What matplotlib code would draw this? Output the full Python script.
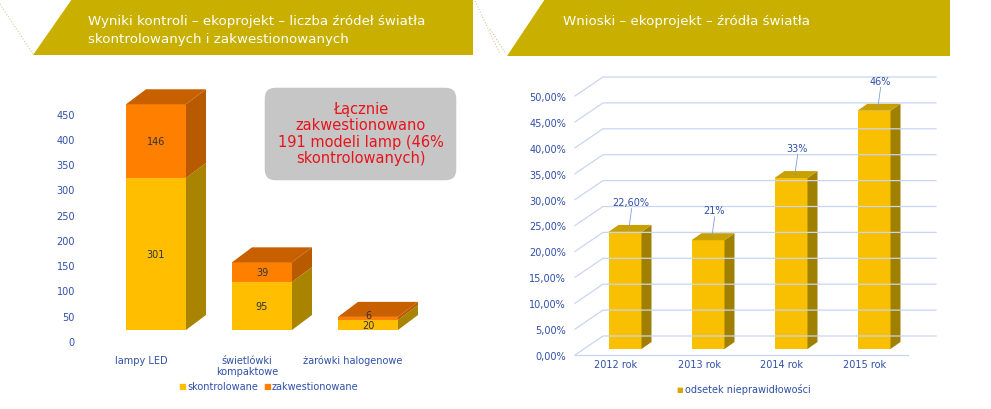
import matplotlib.pyplot as plt
from matplotlib.patches import Polygon, FancyBboxPatch

# data
left_cats = ["lampy LED", "świetlówki\nkompaktowe", "żarówki halogenowe"]
checked = [301, 95, 20]
questioned = [146, 39, 6]
left_ticks = list(range(0, 451, 50))

right_cats = ["2012 rok", "2013 rok", "2014 rok", "2015 rok"]
error_pct = [22.6, 21, 33, 46]
error_labels = ["22,60%", "21%", "33%", "46%"]
right_ticks = list(range(0, 51, 5))

W, H = 991, 410
fig = plt.figure(figsize=(W / 100, H / 100), dpi=100)
fig.patch.set_facecolor("white")
BLUE = "#2f4fa8"


def px(x, y):
    return x / W, 1 - y / H


def face(ax, pts, color):
    ax.add_patch(Polygon(pts, closed=True, facecolor=color, edgecolor="none"))


def box3d(ax, xc, y0, y1, w, dx, dy, front, side, top=None):
    x0, x1 = xc - w / 2, xc + w / 2
    face(ax, [(x0, y0), (x1, y0), (x1, y1), (x0, y1)], front)
    face(ax, [(x1, y0), (x1 + dx, y0 + dy), (x1 + dx, y1 + dy), (x1, y1)], side)
    if top:
        face(ax, [(x0, y1), (x1, y1), (x1 + dx, y1 + dy), (x0 + dx, y1 + dy)], top)


# header banners
for pts in ([(33, 56), (72, 0), (473, 0), (473, 56)],
            [(507, 57), (545, 0), (950, 0), (950, 57)]):
    fig.patches.append(Polygon([px(*p) for p in pts], closed=True, transform=fig.transFigure,
                               facecolor="#c9b000", edgecolor="none"))
fig.text(*px(88, 21), "Wyniki kontroli – ekoprojekt – liczba źródeł światła", color="white",
         fontsize=9.6, va="center")
fig.text(*px(88, 39), "skontrolowanych i zakwestionowanych", color="white",
         fontsize=9.6, va="center")
fig.text(*px(563, 21), "Wnioski – ekoprojekt – źródła światła", color="white",
         fontsize=9.6, va="center")
for (xa, ya), (xb, yb) in (((0, 5), (33, 55)), ((475, 2), (500, 55)), ((490, 30), (506, 55))):
    fig.add_artist(plt.Line2D([xa / W, xb / W], [1 - ya / H, 1 - yb / H], color="#d8c890",
                              lw=0.8, ls=":"))

# ---------- left panel ----------
sx, sy = 106, 0.505
axl = fig.add_axes([0, 1 - 400 / H, 490 / W, 340 / H])
xmin = -156 / sx
axl.set_xlim(xmin, xmin + 490 / sx)
axl.set_ylim(-(400 - 331) / sy, (331 - 60) / sy)
axl.axis("off")
dx, dy = 20 / sx, 15 / sy
w = 60 / sx
for i, (c, q) in enumerate(zip(checked, questioned)):
    box3d(axl, i, 0, c, w, dx, dy, "#ffbf00", "#a88400")
    box3d(axl, i, c, c + q, w, dx, dy, "#ff7f00", "#b85a00", "#c96000")
    axl.text(i, c / 2, str(c), ha="center", va="center", fontsize=7, color="#333333")
    axl.text(i, c + q / 2 + (6 if q < 10 else 0), str(q), ha="center", va="center",
             fontsize=7, color="#333333")
for v in left_ticks:
    axl.text(xmin + 75 / sx, v - 12 / sy, str(v), ha="right", va="center", fontsize=7, color=BLUE)
for i, lab in enumerate(left_cats):
    axl.text(i - 15 / sx, -25 / sy, lab, ha="center", va="top", fontsize=7, color=BLUE,
             linespacing=1.1)
axl.add_patch(FancyBboxPatch((263 / sx + xmin, (331 - 183) / sy), 195 / sx, 96 / sy,
                             boxstyle="round,pad=0,rounding_size=0.12", mutation_aspect=sx / sy,
                             facecolor="#c6c6c6", edgecolor="white", lw=2.5))
fig.text(*px(361, 134), "Łącznie\nzakwestionowano\n191 modeli lamp (46%\nskontrolowanych)",
         ha="center", va="center", fontsize=10.5, color="#e8141c", linespacing=1.1)
fig.text(*px(178, 387), "■", color="#ffbf00", fontsize=6, va="center")
fig.text(*px(187, 387), "skontrolowane", color=BLUE, fontsize=7, va="center")
fig.text(*px(263, 387), "■", color="#ff7f00", fontsize=6, va="center")
fig.text(*px(272, 387), "zakwestionowane", color=BLUE, fontsize=7, va="center")

# ---------- right panel ----------
rx, ry = 83, 5.18
axr = fig.add_axes([490 / W, 1 - 400 / H, 501 / W, 340 / H])
rmin = -(625 - 490) / rx
axr.set_xlim(rmin, rmin + 501 / rx)
axr.set_ylim(-(400 - 350) / ry, (350 - 60) / ry)
axr.axis("off")
fx0, fx1 = rmin + (575 - 490) / rx, rmin + (908 - 490) / rx
ddx, ddy = 28 / rx, 19 / ry
off = -6 / ry
for v in right_ticks:
    yv = v + off
    axr.plot([fx0, fx0 + ddx, fx1 + ddx], [yv, yv + ddy, yv + ddy], color="#c9d5f2", lw=0.9)
    axr.text(rmin + (566 - 490) / rx, v - 7 / ry, f"{v:.2f}%".replace(".", ","),
             ha="right", va="center", fontsize=7, color=BLUE)
axr.plot([fx0, fx1], [off, off], color="#c9d5f2", lw=0.9)
bw = 33 / rx
for i, (v, lab) in enumerate(zip(error_pct, error_labels)):
    box3d(axr, i, 0, v, bw, 10 / rx, 7 / ry, "#f8c000", "#a08000", "#c8a000")
    axr.plot([i + 0.05, i + 0.08], [v + 1, v + 4.5], color="#7f9fd8", lw=0.6)
    axr.text(i + 0.07, v + 4.8, lab, ha="center", va="bottom", fontsize=7, color=BLUE)
    axr.text(i - 9 / rx, -15 / ry, right_cats[i], ha="center", va="center", fontsize=7, color=BLUE)
fig.text(*px(676, 390), "■", color="#d8a800", fontsize=5, va="center")
fig.text(*px(685, 390), "odsetek nieprawidłowości", color=BLUE, fontsize=7, va="center")

fig.savefig("out.png", dpi=100)
